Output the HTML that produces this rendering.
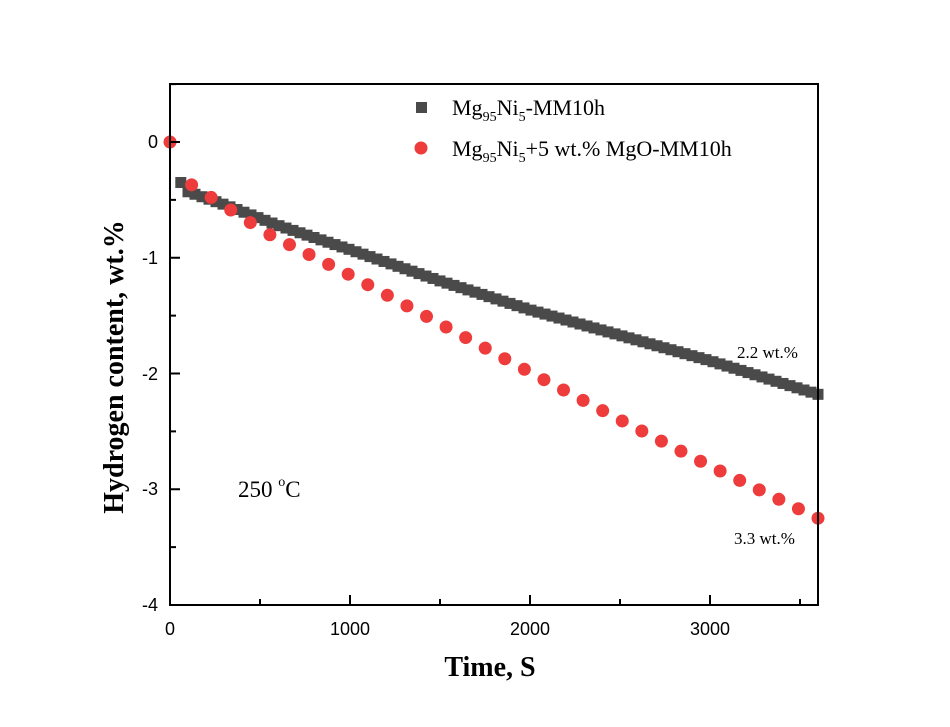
<!DOCTYPE html>
<html><head><meta charset="utf-8"><style>
html,body{margin:0;padding:0;background:#fff;}
svg{display:block;}
.tk{font-family:"Liberation Sans",sans-serif;font-size:18px;}
.sf{font-family:"Liberation Serif",serif;}
</style></head><body>
<svg id="s" width="950" height="727" viewBox="0 0 950 727" xmlns="http://www.w3.org/2000/svg">
<g id="data"></g>
<rect x="170" y="84" width="648" height="521" fill="none" stroke="#000" stroke-width="2"/>
<g stroke="#000" stroke-width="2" id="ticks"></g>
<g class="tk" text-anchor="middle" fill="#000">
<text x="170" y="635">0</text><text x="350" y="635">1000</text><text x="530" y="635">2000</text><text x="710" y="635">3000</text>
</g>
<g class="tk" text-anchor="end" fill="#000">
<text x="158" y="148">0</text><text x="158" y="264">-1</text><text x="158" y="380">-2</text><text x="158" y="495">-3</text><text x="158" y="611">-4</text>
</g>
<text class="sf" x="490" y="676" text-anchor="middle" font-size="28" font-weight="bold">Time, S</text>
<text class="sf" transform="translate(123,367) rotate(-90)" text-anchor="middle" font-size="28" font-weight="bold">Hydrogen content, wt.%</text>
<rect x="416" y="102" width="11" height="11" fill="#4a4a4a"/>
<circle cx="421" cy="148" r="6.5" fill="#ee3b3b"/>
<text class="sf" x="452" y="115" font-size="22">Mg<tspan font-size="14" dy="6">95</tspan><tspan dy="-6">Ni</tspan><tspan font-size="14" dy="6">5</tspan><tspan dy="-6">-MM10h</tspan></text>
<text class="sf" x="452" y="156" font-size="22">Mg<tspan font-size="14" dy="6">95</tspan><tspan dy="-6">Ni</tspan><tspan font-size="14" dy="6">5</tspan><tspan dy="-6">+5 wt.% MgO-MM10h</tspan></text>
<text class="sf" x="737" y="358" font-size="17">2.2 wt.%</text>
<text class="sf" x="734" y="544" font-size="17">3.3 wt.%</text>
<text class="sf" x="238" y="497" font-size="23">250 <tspan font-size="14" dy="-11">o</tspan><tspan dy="11">C</tspan></text>
</svg>
<script>
(function(){
var ns="http://www.w3.org/2000/svg";
function X(t){return 170+t*0.18;}
function Y(v){return 142-v*115.75;}
function interp(pts,t){for(var i=1;i<pts.length;i++){if(t<=pts[i][0]){var a=pts[i-1],b=pts[i];return a[1]+(b[1]-a[1])*(t-a[0])/(b[0]-a[0]);}}return pts[pts.length-1][1];}
var blk=[[60,-0.35],[100,-0.43],[300,-0.54],[600,-0.72],[1000,-0.93],[1500,-1.2],[2000,-1.45],[2500,-1.67],[3000,-1.89],[3600,-2.18]];
var red=[[120,-0.37],[220,-0.47],[330,-0.58],[540,-0.79],[1000,-1.15],[1500,-1.57],[2000,-1.99],[2500,-2.4],[3000,-2.8],[3600,-3.25]];
var g=document.getElementById("data");
function sq(t,v){var r=document.createElementNS(ns,"rect");r.setAttribute("x",X(t)-5.5);r.setAttribute("y",Y(v)-5.5);r.setAttribute("width",11);r.setAttribute("height",11);r.setAttribute("fill","#4a4a4a");g.appendChild(r);}
function ci(t,v){var c=document.createElementNS(ns,"circle");c.setAttribute("cx",X(t));c.setAttribute("cy",Y(v));c.setAttribute("r",6.5);c.setAttribute("fill","#ee3b3b");g.appendChild(c);}
sq(60,-0.35);
for(var i=0;i<=90;i++){var t=100+i*(3500/90);sq(t,interp(blk,t));}
ci(0,0);
for(var i=0;i<=32;i++){var t=120+i*(3480/32);ci(t,interp(red,t));}
var tk=document.getElementById("ticks");
function ln(x1,y1,x2,y2){var l=document.createElementNS(ns,"line");l.setAttribute("x1",x1);l.setAttribute("y1",y1);l.setAttribute("x2",x2);l.setAttribute("y2",y2);tk.appendChild(l);}
for(var t=0;t<=3600;t+=500){var len=(t%1000==0)?10:6;ln(X(t),605,X(t),605-len);}
for(var v=0.5;v>=-4;v-=0.5){var len=(Math.abs(v-Math.round(v))<0.01)?10:6;ln(170,Y(v),170+len,Y(v));}
})();
</script>
</body></html>
